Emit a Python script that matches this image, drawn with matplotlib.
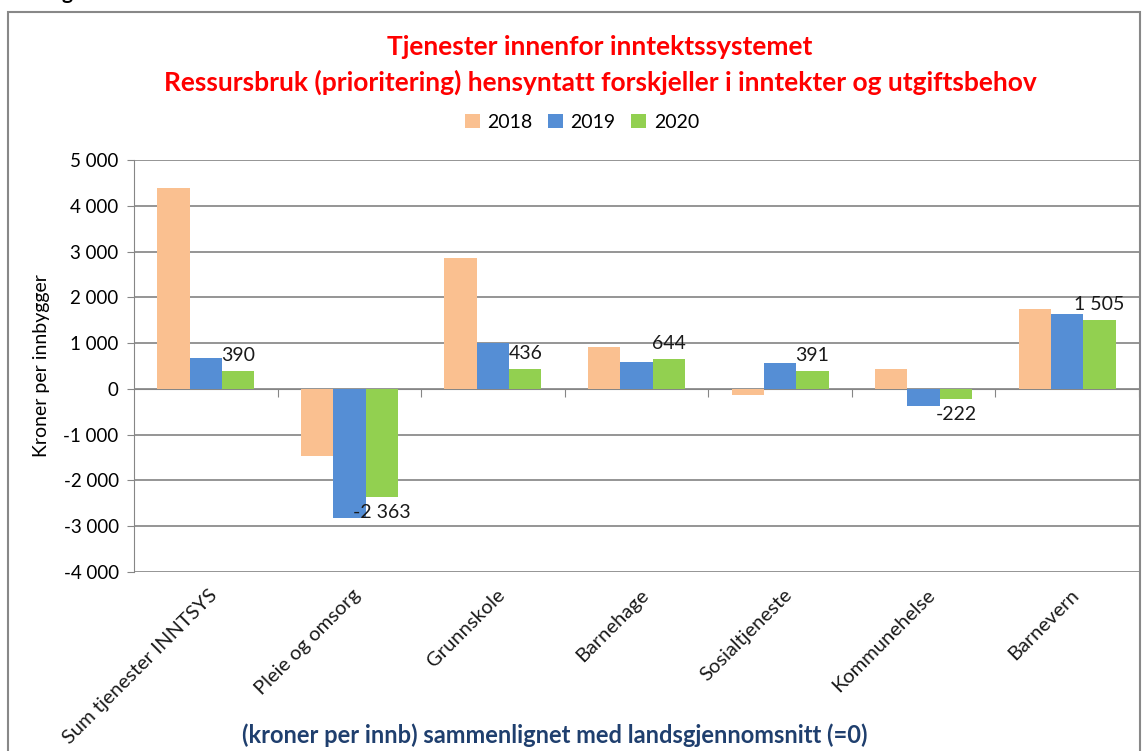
import numpy as np
import matplotlib
matplotlib.use('Agg')
import matplotlib.pyplot as plt
from matplotlib.patches import Rectangle
from matplotlib.ticker import FuncFormatter

categories = ['Sum tjenester INNTSYS', 'Pleie og omsorg', 'Grunnskole', 'Barnehage',
              'Sosialtjeneste', 'Kommunehelse', 'Barnevern']
years = ['2018', '2019', '2020']
v2018 = [4390, -1460, 2855, 905, -135, 430, 1755]
v2019 = [685, -2815, 1010, 590, 555, -375, 1645]
v2020 = [390, -2363, 436, 644, 391, -222, 1505]
colors = ['#FAC090', '#558ED5', '#92D050']
yticks = np.arange(-4000, 5001, 1000)

plt.rcParams['font.family'] = ['Lato', 'DejaVu Sans']

W, H = 1144, 751
fig = plt.figure(figsize=(W / 100, H / 100), dpi=100)
ax = fig.add_axes([134 / W, 1 - 572 / H, (1139 - 134) / W, (572 - 160) / H])

x = np.arange(len(categories))
w = 0.225
for i, (vals, col, yr) in enumerate(zip([v2018, v2019, v2020], colors, years)):
    ax.bar(x + (i - 1) * w, vals, w, color=col, label=yr, zorder=3)

def fmt(v):
    return f"{int(v):,}".replace(',', ' ')

# data labels on 2020 series
for xi, v in zip(x, v2020):
    off = 5 if v >= 0 else -5
    ax.annotate(fmt(v), (xi + w, v), xytext=(0, off), textcoords='offset points',
                ha='center', va='bottom' if v >= 0 else 'top', fontsize=14, color='#1a1a1a',
                zorder=4)

ax.set_xlim(-0.5, len(categories) - 0.5)
ax.set_ylim(-4000, 5000)
ax.set_yticks(yticks)
ax.yaxis.set_major_formatter(FuncFormatter(lambda v, p: fmt(v)))
ax.tick_params(axis='y', labelsize=13.5, length=5, color='#868686', pad=6)
ax.grid(axis='y', color='#8c8c8c', lw=1.3, zorder=0)

ax.spines['top'].set_visible(False)
ax.spines['right'].set_visible(False)
ax.spines['left'].set_color('#868686')
ax.spines['bottom'].set_color('#868686')
ax.spines['bottom'].set_position(('data', 0))
ax.set_xticks(np.arange(0.5, len(categories), 1.0))
ax.set_xticklabels([])
ax.tick_params(axis='x', length=6, color='#868686', direction='out')

# category labels at the bottom, rotated
for xi, c in zip(x, categories):
    ax.text(xi + 0.02, -0.035, c, transform=ax.get_xaxis_transform(), rotation=45,
            rotation_mode='anchor', ha='right', va='top', fontsize=14.5, color='#1a1a1a')

ax.set_ylabel('Kroner per innbygger', fontsize=14, labelpad=10)

fig.text(600 / W, 1 - 47 / H, 'Tjenester innenfor inntektssystemet', color='red',
         fontsize=19, fontweight='bold', ha='center', va='center')
fig.text(600 / W, 1 - 82 / H,
         'Ressursbruk (prioritering) hensyntatt forskjeller i inntekter og utgiftsbehov',
         color='red', fontsize=19, fontweight='bold', ha='center', va='center')

fig.legend(loc='center', bbox_to_anchor=(582 / W, 1 - 122 / H), ncol=3, frameon=False,
           fontsize=14, handlelength=0.75, handleheight=0.75, columnspacing=0.8,
           handletextpad=0.4)

fig.text(555 / W, 1 - 735 / H, '(kroner per innb) sammenlignet med landsgjennomsnitt (=0)',
         color='#1F3F6E', fontsize=17, fontweight='bold', ha='center', va='center')

# outer chart frame and cut-off caption above
fig.add_artist(Rectangle((8 / W, -0.05), (1140 - 8) / W, 1.05 - 12 / H,
                         transform=fig.transFigure, fill=False, edgecolor='#888888', lw=1.5))
fig.text(62 / W, 1 + 1 / H, 'g', fontsize=15, fontweight='bold', va='baseline')

fig.savefig('out.png', dpi=100)
